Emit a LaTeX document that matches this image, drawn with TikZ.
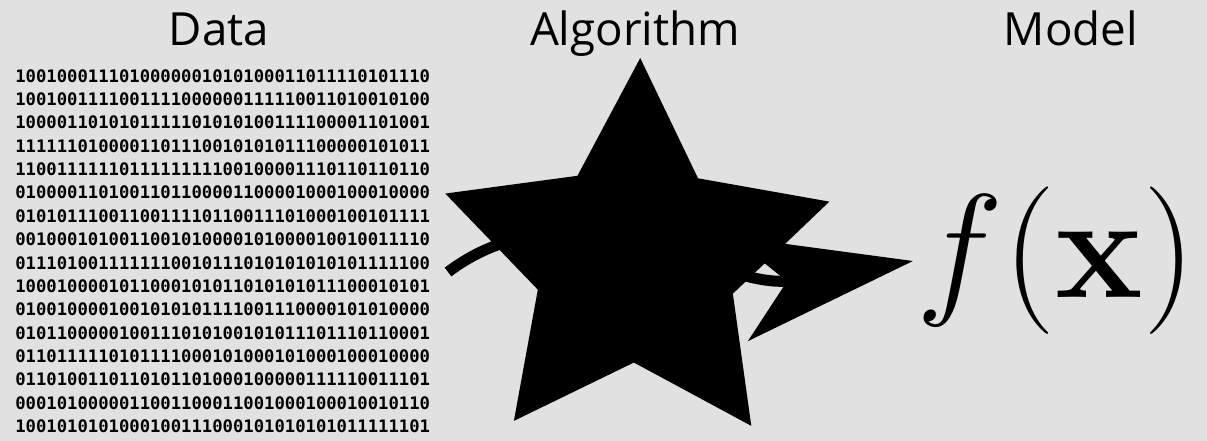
\RequirePackage{fix-cm}
\documentclass[tikz,border=0pt]{standalone}
\usepackage{amsmath,amssymb}
\usepackage{fontspec}
\usepackage{xcolor}
\usepackage{tikz}
\usetikzlibrary{arrows.meta,shapes.geometric,positioning}

\newfontfamily\headfont{Open Sans}
\newfontfamily\bitsfont{DejaVu Sans Mono}
\definecolor{slidegray}{RGB}{224,225,224}

\tikzset{
  heading/.style={font=\headfont\fontsize{26}{30}\selectfont, anchor=base, inner sep=0},
  bits/.style={font=\bitsfont\bfseries\fontsize{9.8}{13.3}\selectfont, align=left, anchor=north west, inner sep=0},
}

\begin{document}
\begin{tikzpicture}[x=0.2mm, y=-0.2mm]
		\fill[slidegray] (0,0) rectangle (1207,441);
		\node[heading] (datahead) at (219,46) {Data};
		\node[heading] (alghead) at (635,46) {Algorithm};
		\node[heading] (modelhead) at (1071,46) {Model};

		% raw data
		\node[bits] (data) at (15,69) {1001000111010000001010100011011110101110\\
			1001001111001111000000111110011010010100\\
			1000011010101111101010100111100001101001\\
			1111110100001101110010101011100000101011\\
			1100111111011111111100100001110110110110\\
			0100001101001101100001100001000100010000\\
			0101011100110011110110011101000100101111\\
			0010001010011001010000101000010010011110\\
			0111010011111110010111010101010101111100\\
			1000100001011000101011010101011100010101\\
			0100100001001010101111001110000101010000\\
			0101100000100111010100101011101110110001\\
			0110111110101111000101000101000100010000\\
			0110100110110101101000100000111110011101\\
			0001010000011001100011001000100010010110\\
			1001010101000100111000101010101011111101};

		% learning arrow, mostly behind the star
		\coordinate (arrowstart) at (448,272);
		\coordinate (arrowtip) at (913,261);
		\draw[line width=2.2mm, -{Stealth[length=35mm, width=21mm, inset=9.5mm]}] (arrowstart) .. controls (576,176) and (720,292) .. (arrowtip);

		\node[star, star points=5, star point ratio=1.97, minimum size=80.8mm, inner sep=0, outer sep=0, fill=black, rotate=-1.2] (algo) at (636,260) {};

		% learned model
		\node[anchor=base west, inner sep=0, font=\fontsize{84}{90}\selectfont] (model) at (916,297) {$f(\textbf{x})$};
	\end{tikzpicture}
\end{document}
